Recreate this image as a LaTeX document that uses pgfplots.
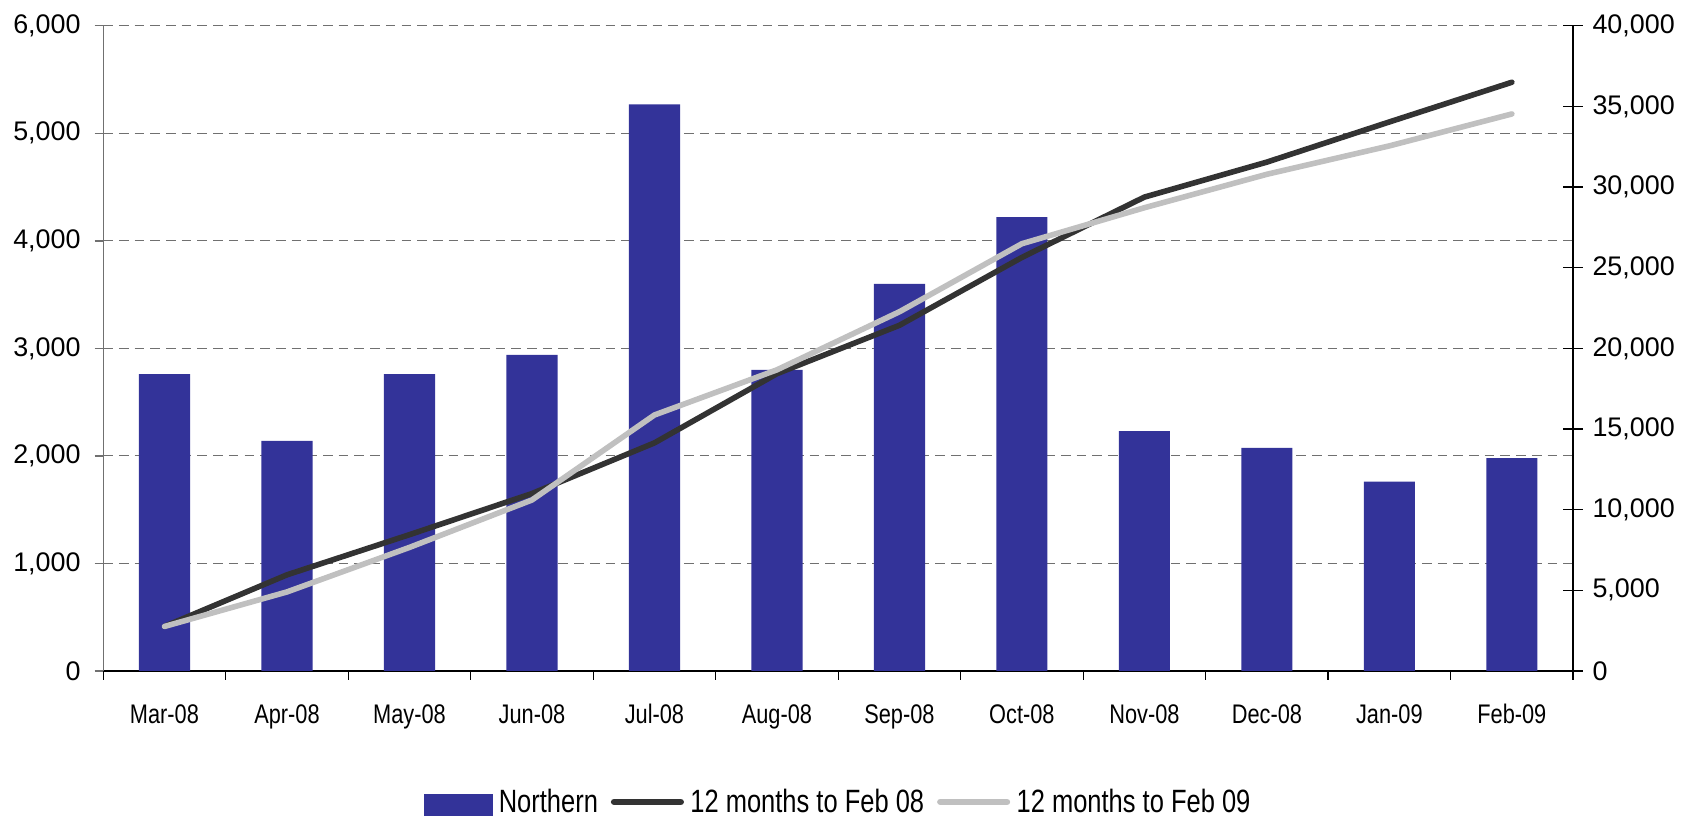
\documentclass[border=0pt]{standalone}
\usepackage{fontspec}
\setmainfont{Liberation Sans}
\newfontfamily\narrowfont[FakeStretch=0.81]{Liberation Sans}
\newfontfamily\legendfont[FakeStretch=0.79]{Liberation Sans}
\usepackage{pgfplots}
\pgfplotsset{compat=1.18}
\definecolor{barblue}{HTML}{333399}
\definecolor{darkline}{HTML}{333333}
\definecolor{lightline}{HTML}{C0C0C0}
\definecolor{gridgray}{HTML}{707070}

\pgfplotstableread{
x bars
0 2760
1 2140
2 2760
3 2940
4 5270
5 2800
6 3600
7 4220
8 2230
9 2075
10 1760
11 1980
}\bartable

\pgfplotstableread{
x feb08 feb09
0 2760 2760
1 5960 4900
2 8450 7660
3 11000 10600
4 14140 15870
5 18430 18670
6 21430 22270
7 25640 26490
8 29380 28720
9 31550 30795
10 34040 32555
11 36500 34535
}\linetable

\begin{document}
\begin{tikzpicture}
\begin{axis}[
  name=a1,
  scale only axis,
  width=683.5pt, height=300pt,
  xmin=-0.5, xmax=11.5,
  ymin=0, ymax=6000,
  axis x line*=bottom,
  axis y line*=left,
  x axis line style={black, line width=0.6pt},
  y axis line style={gridgray, line width=0.6pt},
  xtick={-0.5,0.5,...,11.5},
  xticklabels={},
  extra x ticks={0,1,2,3,4,5,6,7,8,9,10,11},
  extra x tick labels={Mar-08,Apr-08,May-08,Jun-08,Jul-08,Aug-08,Sep-08,Oct-08,Nov-08,Dec-08,Jan-09,Feb-09},
  extra x tick style={major tick length=0pt, grid=none,
     tick label style={font=\narrowfont\fontsize{12.5}{14}\selectfont, yshift=-12pt}},
  x tick style={black, line width=0.6pt},
  ytick={0,1000,...,6000},
  y tick style={gridgray, line width=0.6pt},
  tick align=outside,
  major tick length=4pt,
  ymajorgrids,
  grid style={gridgray, dash pattern=on 4.5pt off 2.8pt, line width=0.5pt},
  yticklabel style={font=\fontsize{12.5}{14}\selectfont, xshift=-3pt},
  /pgf/number format/assume math mode=true,
  /pgf/number format/1000 sep={,},
  scaled y ticks=false,
  clip=false,
]
\addplot[ybar, bar width=23.8pt, fill=barblue, draw=none] table[x=x, y=bars] {\bartable};
\end{axis}
\begin{axis}[
  scale only axis,
  width=683.5pt, height=300pt,
  xmin=-0.5, xmax=11.5,
  ymin=0, ymax=40000,
  axis x line=none,
  axis y line*=right,
  y axis line style={black, line width=0.6pt},
  ytick={0,5000,...,40000},
  y tick style={black, line width=0.6pt},
  tick align=center,
  major tick length=9pt,
  yticklabel style={font=\fontsize{12.5}{14}\selectfont, xshift=1pt},
  /pgf/number format/assume math mode=true,
  /pgf/number format/1000 sep={,},
  scaled y ticks=false,
  legend columns=3,
  legend style={draw=none, fill=none, at={(0.5,-0.203)}, anchor=center,
     font=\legendfont\fontsize{15}{17}\selectfont,
     /tikz/every even column/.append style={column sep=5pt},
     /tikz/every odd column/.append style={column sep=2pt},
     nodes={inner sep=1pt},
     inner sep=0pt},
  legend image code/.code={\draw[#1, line cap=round, line width=3pt] (0pt,0pt) -- (31pt,0pt);},
  legend cell align=left,
]
\addlegendimage{legend image code/.code={\fill[barblue] (0pt,-6.5pt) rectangle (31.5pt,3.5pt);}}
\addlegendentry{Northern}
\addplot[darkline, line width=2.6pt, line cap=round, line join=round] table[x=x, y=feb08] {\linetable};
\addlegendentry{12 months to Feb 08}
\addplot[lightline, line width=2.6pt, line cap=round, line join=round] table[x=x, y=feb09] {\linetable};
\addlegendentry{12 months to Feb 09}
\end{axis}
\pgfresetboundingbox
\path (a1.south west) ++(-48pt,-69pt) rectangle ([shift={(52.5pt,12pt)}]a1.north east);
\end{tikzpicture}
\end{document}
